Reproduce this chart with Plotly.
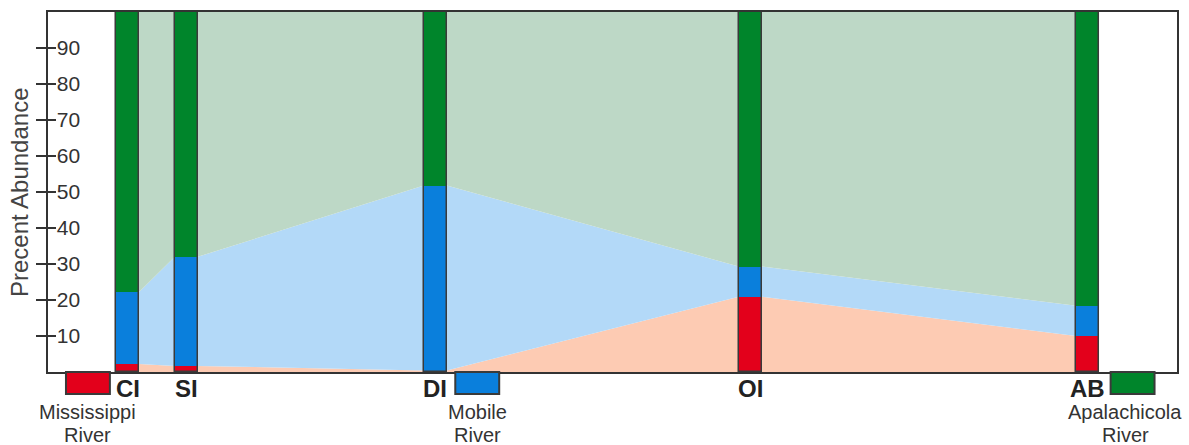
import plotly.graph_objects as go

# Sampling sites along the coast (x position in plot units, west to east)
sites = ["CI", "SI", "DI", "OI", "AB"]
site_pos = [80, 138.5, 388, 703.5, 1041.5]

# Percent abundance of each provenance signal at each site
mississippi = [2.2, 1.7, 0.4, 20.9, 10.0]
mobile = [20.1, 30.3, 51.4, 8.4, 8.4]
apalachicola = [100 - a - b for a, b in zip(mississippi, mobile)]

# River source markers below the axis
rivers = ["Mississippi", "Mobile", "Apalachicola"]
river_pos = [40, 430, 1086.5]
river_label_pos = [40, 430, 1079]
river_colors = ["#e3001b", "#0a7fdc", "#00852b"]

yticks = [10, 20, 30, 40, 50, 60, 70, 80, 90]

BAR_W = 23
RED, BLUE, GREEN = "#e3001b", "#0a7fdc", "#00852b"
RED_F, BLUE_F, GREEN_F = "#fdcbb3", "#b3d9f8", "#bdd8c6"
EDGE = "#3a3a3a"
FONT = "Liberation Sans, Arial, sans-serif"
XR = [0, 1131]

# Polylines that run along bar edges, so the bands meet each bar side
xs, red_top, blue_top, top = [], [], [], []
for p, r, b in zip(site_pos, mississippi, mobile):
    for x in (p - BAR_W / 2, p + BAR_W / 2):
        xs.append(x)
        red_top.append(r)
        blue_top.append(r + b)
        top.append(100)

fig = go.Figure()
# shaded bands on the base subplot
fig.add_trace(go.Scatter(x=xs, y=red_top, mode="lines", line=dict(width=0),
                         fill="tozeroy", fillcolor=RED_F, hoverinfo="skip"))
fig.add_trace(go.Scatter(x=xs, y=blue_top, mode="lines", line=dict(width=0),
                         fill="tonexty", fillcolor=BLUE_F, hoverinfo="skip"))
fig.add_trace(go.Scatter(x=xs, y=top, mode="lines", line=dict(width=0),
                         fill="tonexty", fillcolor=GREEN_F, hoverinfo="skip"))

# stacked columns on an overlaying subplot so they sit above the bands
bases_blue = mississippi
bases_green = [a + b for a, b in zip(mississippi, mobile)]
for vals, base, col in [(mississippi, [0] * 5, RED), (mobile, bases_blue, BLUE),
                        (apalachicola, bases_green, GREEN)]:
    fig.add_trace(go.Bar(x=site_pos, y=vals, base=base, width=BAR_W, xaxis="x2", yaxis="y2",
                         marker=dict(color=col, line=dict(width=0))))
# outline around each full column
fig.add_trace(go.Bar(x=site_pos, y=[100] * 5, base=[0] * 5, width=BAR_W, xaxis="x2", yaxis="y2",
                     marker=dict(color="rgba(0,0,0,0)", line=dict(color=EDGE, width=1.5))))

annotations = []
for s, p in zip(sites, site_pos):
    annotations.append(dict(x=p, y=0, xref="x", yref="paper", text=f"<b>{s}</b>",
                            showarrow=False, yanchor="top", yshift=-2, borderpad=0,
                            font=dict(family=FONT, size=24, color="#222")))
shapes = []
for name, p, lp, c in zip(rivers, river_pos, river_label_pos, river_colors):
    shapes.append(dict(type="rect", xref="x", yref="paper", x0=p - 22, x1=p + 22,
                       y0=0, y1=-22 / 362, fillcolor=c, line=dict(color=EDGE, width=2)))
    for line, dy in ((name, -40), ("River", -63)):
        annotations.append(dict(x=lp, y=0, xref="x", yref="paper", text=line,
                                showarrow=False, yanchor="middle", yshift=dy, borderpad=0,
                                font=dict(family=FONT, size=20, color="#333")))
annotations.append(dict(x=0, y=0.5, xref="paper", yref="paper", text="Precent Abundance",
                        textangle=-90, showarrow=False, xanchor="center", xshift=-29,
                        font=dict(family=FONT, size=24, color="#444")))

fig.update_layout(
    width=1189, height=445,
    margin=dict(l=48, r=10, t=10, b=73),
    paper_bgcolor="white", plot_bgcolor="white",
    barmode="overlay", showlegend=False, bargap=0,
    annotations=annotations, shapes=shapes,
    xaxis=dict(range=XR, showgrid=False, zeroline=False, showticklabels=False,
               ticks="", showline=True, mirror=True, linecolor="#333", linewidth=2),
    xaxis2=dict(range=XR, overlaying="x", showgrid=False, zeroline=False,
                showticklabels=False, ticks="", showline=False),
    yaxis=dict(range=[0, 100], tickvals=yticks, showgrid=False, zeroline=False,
               ticks="outside", ticklen=10, tickwidth=2, tickcolor="#333",
               ticklabelposition="inside", ticklabelstandoff=10,
               tickfont=dict(family=FONT, size=21, color="#333"),
               showline=True, mirror=True, linecolor="#333", linewidth=2),
    yaxis2=dict(range=[0, 100], tickvals=yticks, overlaying="y", side="left",
                showgrid=False, zeroline=False, showticklabels=False,
                ticks="inside", ticklen=8, tickwidth=2, tickcolor="#333", showline=False),
)

fig.write_html("out.html")
